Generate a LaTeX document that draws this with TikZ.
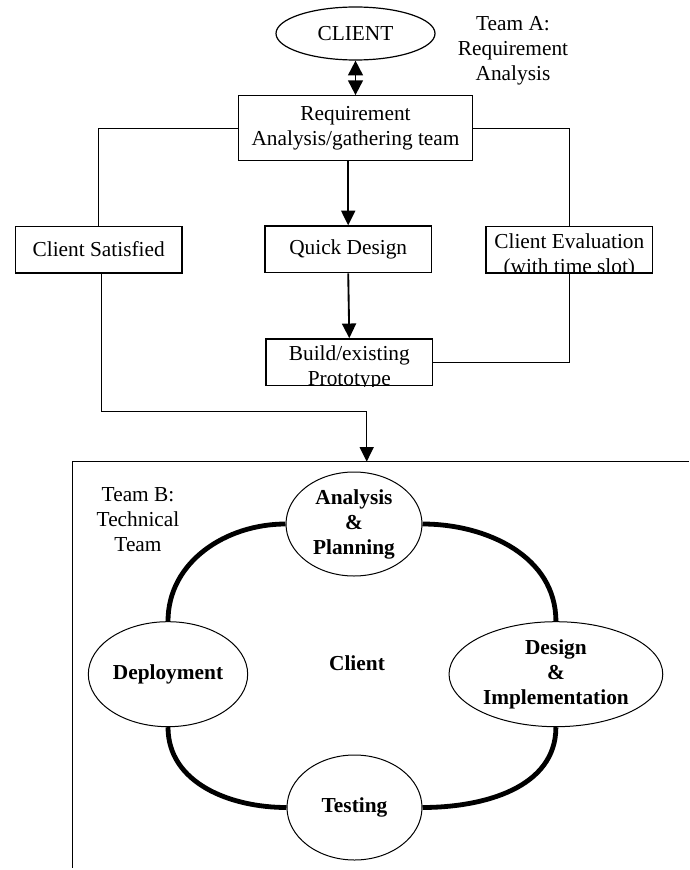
\documentclass[tikz,border=0pt]{standalone}
\usepackage{fontspec}
\setmainfont{Liberation Serif}
\usetikzlibrary{arrows.meta,shapes.geometric}

\begin{document}
\begin{tikzpicture}[x=0.75pt,y=-0.75pt,
                    font=\fontsize{16}{18.75}\selectfont,
                    flow box/.style={rectangle,draw,line width=1pt,minimum width=125pt,minimum height=35pt,inner sep=0pt},
                    oval node/.style={ellipse,draw,line width=0.75pt,inner sep=0pt,align=center,font=\fontsize{16}{18.75}\selectfont\bfseries},
                    link/.style={line width=0.9pt},
                    flow/.style={line width=1.4pt,-{Triangle[length=11pt,width=10.5pt]}},
                    cycle arc/.style={line width=3.6pt}]
  \useasboundingbox (0,0) rectangle (689,870);

  % Team A
  \node[ellipse,draw,line width=0.9pt,minimum width=119.25pt,minimum height=39.75pt,inner sep=0pt] (client) at (355.5,33.5) {CLIENT};
  \node[align=center] (teamA) at (513,51) {Team A:\\Requirement\\Analysis};
  \node[flow box,minimum width=175.5pt,minimum height=48.75pt,align=center] (req) at (355.5,128.3) {Requirement\\Analysis/gathering team};
  \node[flow box] (sat) at (98.7,249.5) {Client Satisfied};
  \node[flow box] (quick) at (348.2,249.3) {Quick Design};
  \node[flow box] (eval) at (569.3,249.5) {};
  \node[flow box] (build) at (349.3,362.2) {};
  % texts that run past the box bottom
  \begin{scope}
    \clip (eval.north west) rectangle (eval.south east);
    \node[anchor=north,align=center,inner sep=0pt] (evaltext) at (569.3,233.5) {Client Evaluation\\(with time slot)};
  \end{scope}
  \begin{scope}
    \clip (build.north west) rectangle (build.south east);
    \node[anchor=north,align=center,inner sep=0pt] (buildtext) at (349.3,345.4) {Build/existing\\Prototype};
  \end{scope}

  \draw[{Triangle[length=11pt,width=11pt]}-{Triangle[length=11pt,width=11pt]},line width=1.4pt] (client.south) -- (req.north);
  \draw[link] (req.west) -| (sat.north);
  \draw[link] (req.east) -| (eval.north);
  \draw[link] (eval.south) |- (build.east);
  \draw[flow] (quick.north |- req.south) -- (quick.north);
  \draw[flow] (quick.south) -- (build.north);

  % Team B frame
  \coordinate (fne) at (689,461.7);
  \coordinate (fnw) at (72.5,461.7);
  \coordinate (fsw) at (72.5,868);
  \draw[line width=1pt] (fne) -- (fnw) -- (fsw);
  \coordinate (bend) at (366.7,411.7);
  \coordinate (drop) at (366.7,461.7);
  \draw[flow,line width=1.1pt] ([xshift=2.25pt]sat.south) |- (bend) -- (drop);

  \node[align=center] (teamB) at (138,520) {Team B:\\Technical\\Team};
  \node[oval node,minimum width=102pt,minimum height=78pt] (plan) at (354,524) {Analysis\\\&\\Planning};
  \node[oval node,minimum width=119.5pt,minimum height=78.75pt] (deploy) at (168,674.2) {Deployment};
  \node[oval node,minimum width=160.3pt,minimum height=78.75pt] (design) at (555.9,674.2) {Design\\\&\\Implementation};
  \node[oval node,minimum width=101.25pt,minimum height=78.75pt] (test) at (354.5,807.5) {Testing};
  \node[font=\fontsize{16}{18.75}\selectfont\bfseries] (hub) at (357,663) {Client};

  \draw[cycle arc] (plan.east) to[out=0,in=90] (design.north);
  \draw[cycle arc] (design.south) to[out=-90,in=0] (test.east);
  \draw[cycle arc] (test.west) to[out=180,in=-90] (deploy.south);
  \draw[cycle arc] (deploy.north) to[out=90,in=180] (plan.west);
\end{tikzpicture}
\end{document}
